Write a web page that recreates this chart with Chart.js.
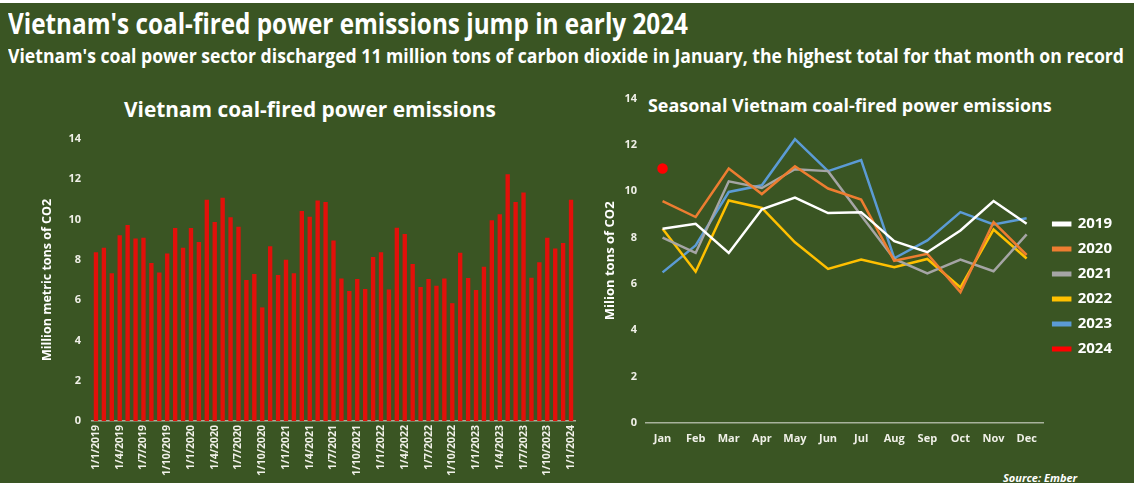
<!DOCTYPE html>
<html>
<head>
<meta charset="utf-8">
<script src="https://cdn.jsdelivr.net/npm/chart.js@4.4.1/dist/chart.umd.min.js"></script>
<style>
  html, body { margin: 0; padding: 0; }
  body {
    width: 1134px; height: 483px; overflow: hidden;
    background: #3a5523; position: relative;
    border-top: 3px solid #ffffff; box-sizing: border-box;
    font-family: 'Open Sans', 'DejaVu Sans', sans-serif; color: #fff;
  }
  .txt { position: absolute; white-space: nowrap; font-weight: bold; color: #fff; line-height: 1; transform-origin: 0 0; }
  .box { position: absolute; }
</style>
</head>
<body>
<div id="mainTitle" class="txt" style="left:8px; top:5px; font-size:29px;">Vietnam's coal-fired power emissions jump in early 2024</div>
<div id="subTitle" class="txt" style="left:8px; top:43px; font-size:20px;">Vietnam's coal power sector discharged 11 million tons of carbon dioxide in January, the highest total for that month on record</div>
<div id="leftTitle" class="txt" style="left:124px; top:96px; font-size:19px;">Vietnam coal-fired power emissions</div>
<div id="rightTitle" class="txt" style="left:648px; top:94px; font-size:17px;">Seasonal Vietnam coal-fired power emissions</div>
<div class="txt" style="left:1003px; top:469px; font-size:11px; font-style:italic;">Source: Ember</div>

<div class="box" style="left:0; top:80px; width:590px; height:403px;"><canvas id="barChart"></canvas></div>
<div class="box" style="left:590px; top:80px; width:544px; height:403px;"><canvas id="lineChart"></canvas></div>

<script>
// --- data (million tonnes CO2) ---
const months = ['Jan', 'Feb', 'Mar', 'Apr', 'May', 'Jun', 'Jul', 'Aug', 'Sep', 'Oct', 'Nov', 'Dec'];
const years = ['2019', '2020', '2021', '2022', '2023', '2024'];
const emissions2019 = [8.38, 8.6, 7.34, 9.22, 9.73, 9.06, 9.1, 7.85, 7.37, 8.31, 9.58, 8.6];
const emissions2020 = [9.58, 8.89, 10.98, 9.88, 11.08, 10.12, 9.64, 7.0, 7.3, 5.64, 8.67, 7.25];
const emissions2021 = [8.0, 7.34, 10.43, 10.14, 10.95, 10.87, 8.96, 7.08, 6.46, 7.05, 6.55, 8.14];
const emissions2022 = [8.38, 6.53, 9.6, 9.28, 7.8, 6.65, 7.05, 6.72, 7.08, 5.85, 8.35, 7.1];
const emissions2023 = [6.5, 7.66, 9.97, 10.26, 12.25, 10.87, 11.35, 7.11, 7.88, 9.1, 8.57, 8.84];
const emissions2024 = [10.98];
const yTicks = [0, 2, 4, 6, 8, 10, 12, 14];

const seriesColors = ['#ffffff', '#ed7d31', '#a5a5a5', '#ffc000', '#5b9bd5', '#ff0000'];
const allSeries = [emissions2019, emissions2020, emissions2021, emissions2022, emissions2023, emissions2024];

// fit a text line to the width it has in the reference
function fitWidth(id, target, squeeze) {
  const el = document.getElementById(id);
  const w = el.getBoundingClientRect().width;
  if (squeeze) {
    el.style.transform = 'scaleX(' + (target / w) + ')';   // condensed look, keep the height
  } else {
    el.style.fontSize = (parseFloat(el.style.fontSize) * target / w) + 'px';
  }
}
fitWidth('mainTitle', 680, true);
fitWidth('subTitle', 1116, true);
fitWidth('leftTitle', 372);
fitWidth('rightTitle', 404);

// monthly series for the bar chart: d/m/yyyy labels
const barLabels = [];
const barValues = [];
allSeries.forEach((arr, yi) => {
  arr.forEach((v, mi) => {
    barLabels.push('1/' + (mi + 1) + '/' + years[yi]);
    barValues.push(v);
  });
});

const tickFont = { family: 'Open Sans', weight: 'bold', size: 11 };
const axisLine = '#a7b29c';

new Chart(document.getElementById('barChart'), {
  type: 'bar',
  data: {
    labels: barLabels,
    datasets: [{
      data: barValues,
      backgroundColor: '#e2100a',
      barPercentage: 0.55,
      categoryPercentage: 1.0
    }]
  },
  options: {
    responsive: true,
    maintainAspectRatio: false,
    animation: false,
    layout: { padding: { top: 56, right: 15, left: 0, bottom: 0 } },
    plugins: { legend: { display: false }, tooltip: { enabled: false } },
    scales: {
      x: {
        grid: { display: false, drawTicks: false },
        border: { color: axisLine, width: 1.5 },
        ticks: {
          color: '#f0f0e8', font: { family: 'Open Sans', weight: 'bold', size: 10.5 }, autoSkip: false,
          minRotation: 90, maxRotation: 90, padding: 4,
          callback: function (val, i) { return i % 3 === 0 ? barLabels[i] : ''; }
        },
        afterFit: function (s) { s.height = 65; }
      },
      y: {
        min: 0, max: 14,
        afterBuildTicks: function (s) { s.ticks = yTicks.map(v => ({ value: v })); },
        grid: { display: false, drawTicks: false },
        border: { display: false },
        ticks: { color: '#f0f0e8', font: tickFont, padding: 11 },
        title: {
          display: true, text: 'Million metric tons of CO2', color: '#fff',
          font: { family: 'Open Sans', weight: 'bold', size: 12.5 }, padding: { top: 40 }
        },
        afterFit: function (s) { s.width = 92; }
      }
    }
  }
});

// nudge the right-hand legend up a little, as in the reference
const legendNudge = {
  id: 'legendNudge',
  afterLayout: function (chart) {
    chart.legend.top -= 5;
    chart.legend.bottom -= 5;
  }
};

new Chart(document.getElementById('lineChart'), {
  type: 'line',
  data: {
    labels: months,
    datasets: years.map((yr, i) => ({
      label: yr,
      data: allSeries[i],
      borderColor: seriesColors[i],
      backgroundColor: seriesColors[i],
      borderWidth: 2.5,
      tension: 0,
      pointRadius: yr === '2024' ? 4 : 0,
      pointStyle: yr === '2024' ? 'circle' : 'line'
    }))
  },
  options: {
    responsive: true,
    maintainAspectRatio: false,
    animation: false,
    layout: { padding: { top: 14, right: 12, left: 0, bottom: 0 } },
    plugins: {
      tooltip: { enabled: false },
      legend: {
        position: 'right',
        labels: {
          color: '#fff', boxWidth: 17, boxHeight: 2.5, padding: 10,
          font: { family: 'Open Sans', weight: 'bold', size: 15 }
        }
      }
    },
    scales: {
      x: {
        offset: true,
        grid: { display: false, drawTicks: false },
        border: { color: axisLine, width: 1.5 },
        ticks: { color: '#f0f0e8', font: { family: 'Open Sans', weight: 'bold', size: 11 }, padding: 9 },
        afterFit: function (s) { s.height = 63; }
      },
      y: {
        min: 0, max: 14,
        afterBuildTicks: function (s) { s.ticks = yTicks.map(v => ({ value: v })); },
        grid: { display: false, drawTicks: false },
        border: { display: false },
        ticks: { color: '#f0f0e8', font: tickFont, padding: 9 },
        title: {
          display: true, text: 'Milion tons of CO2', color: '#fff',
          font: { family: 'Open Sans', weight: 'bold', size: 13 }, padding: { top: 12 }
        },
        afterFit: function (s) { s.width = 56; }
      }
    }
  },
  plugins: [legendNudge]
});
</script>
</body>
</html>
